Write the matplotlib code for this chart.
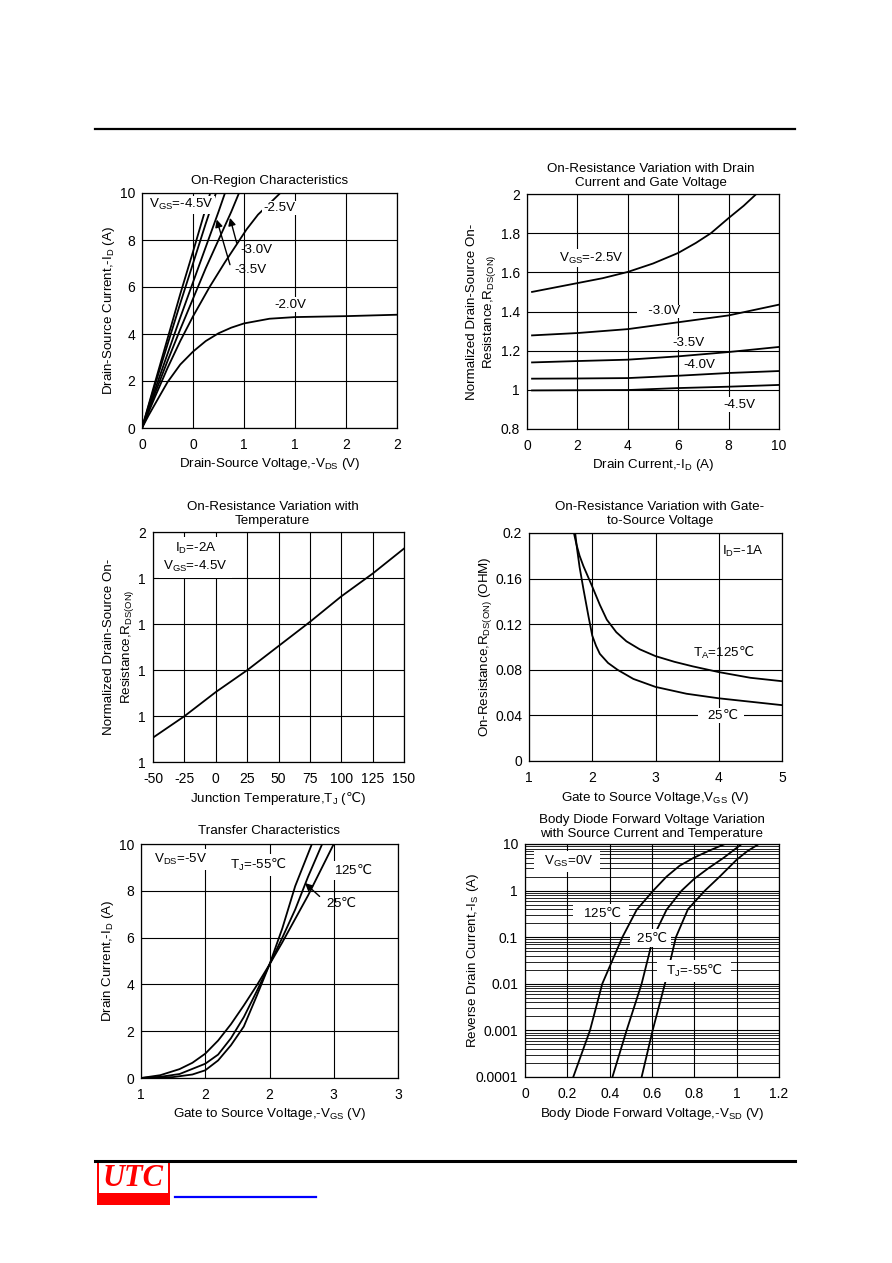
import matplotlib
matplotlib.use("Agg")
import matplotlib.pyplot as plt
from matplotlib.patches import Rectangle
from matplotlib.lines import Line2D

plt.rcParams['font.family'] = ['Liberation Sans', 'DejaVu Sans']
plt.rcParams['mathtext.fontset'] = 'custom'
plt.rcParams['mathtext.rm'] = 'Liberation Sans'
plt.rcParams['mathtext.it'] = 'Liberation Sans'
plt.rcParams['mathtext.sf'] = 'DejaVu Sans'
plt.rcParams['font.size'] = 9.6

W, H = 892, 1263
DEG = '$\\mathsf{\u2103}$'

# ---------------- data ----------------
# On-Region Characteristics (Vds, Id) per gate voltage
on_vds_45 = [0, 0.1, 0.2, 0.3, 0.4, 0.5, 0.535]
on_id_45 = [0, 1.9, 3.8, 5.7, 7.5, 9.35, 10]
on_vds_40 = [0, 0.1, 0.2, 0.3, 0.4, 0.5, 0.58]
on_id_40 = [0, 1.8, 3.55, 5.3, 7.0, 8.7, 10]
on_vds_35 = [0, 0.1, 0.2, 0.3, 0.4, 0.5, 0.6, 0.651]
on_id_35 = [0, 1.6, 3.15, 4.7, 6.2, 7.7, 9.2, 10]
on_vds_30 = [0, 0.1, 0.2, 0.3, 0.4, 0.5, 0.6, 0.7, 0.761]
on_id_30 = [0, 1.45, 2.85, 4.2, 5.5, 6.8, 8.0, 9.2, 10]
on_vds_25 = [0, 0.1, 0.2, 0.3, 0.4, 0.53, 0.65, 0.82, 0.91, 1.0, 1.085]
on_id_25 = [0, 1.3, 2.55, 3.7, 4.75, 6.0, 7.05, 8.45, 9.08, 9.55, 10]
on_vds_20 = [0, 0.05, 0.1, 0.2, 0.3, 0.4, 0.5, 0.6, 0.7, 0.8, 1.0, 1.2, 1.6, 2.0]
on_id_20 = [0, 0.52, 1.0, 1.95, 2.7, 3.25, 3.7, 4.03, 4.27, 4.45, 4.65, 4.72, 4.76, 4.82]
on_xticks = [0, 0.4, 0.8, 1.2, 1.6, 2.0]
on_xlabels = ['0', '0', '1', '1', '2', '2']

# On-Resistance vs drain current
rd_id = [0.2, 2, 4, 6, 8, 10]
rd_25_id = [0.2, 1, 2, 3, 4, 5, 6, 6.7, 7.3, 8, 8.6, 9.1]
rd_25_r = [1.50, 1.52, 1.545, 1.57, 1.602, 1.645, 1.699, 1.75, 1.80, 1.877, 1.94, 2.0]
rd_30 = [1.278, 1.29, 1.31, 1.345, 1.38, 1.435]
rd_35 = [1.14, 1.147, 1.154, 1.171, 1.193, 1.219]
rd_40 = [1.057, 1.058, 1.06, 1.072, 1.086, 1.096]
rd_45 = [0.997, 0.998, 0.999, 1.009, 1.016, 1.025]

# On-Resistance vs temperature
rt_temp = [-50, -25, 0, 25, 50, 75, 100, 125, 150]
rt_r = [0.706, 0.799, 0.904, 0.999, 1.104, 1.209, 1.320, 1.419, 1.528]
rt_yticks = [0.6, 0.8, 1.0, 1.2, 1.4, 1.6]
rt_ylabels = ['1', '1', '1', '1', '1', '2']

# On-Resistance vs gate voltage
rg_v_125 = [1.71, 1.75, 1.8, 1.86, 1.93, 2.0, 2.12, 2.23, 2.38, 2.54, 2.75, 3.0, 3.3, 3.59, 4.0, 4.5, 5.0]
rg_r_125 = [0.200, 0.190, 0.180, 0.171, 0.162, 0.153, 0.137, 0.124, 0.113, 0.105, 0.098, 0.092,
            0.087, 0.083, 0.078, 0.073, 0.070]
rg_v_25 = [1.73, 1.76, 1.8, 1.86, 1.94, 2.0, 2.06, 2.12, 2.25, 2.4, 2.65, 3.0, 3.49, 4.0, 4.5, 5.0]
rg_r_25 = [0.200, 0.186, 0.170, 0.151, 0.127, 0.110, 0.101, 0.094, 0.086, 0.080, 0.072, 0.065,
           0.059, 0.055, 0.052, 0.049]

# Transfer characteristics
tr_v_m55 = [1.0, 1.25, 1.4, 1.5, 1.6, 1.7, 1.8, 1.9, 2.0, 2.1, 2.2, 2.33]
tr_i_m55 = [0, 0.04, 0.15, 0.33, 0.75, 1.4, 2.2, 3.5, 4.85, 6.4, 8.2, 10]
tr_v_25 = [1.0, 1.15, 1.3, 1.5, 1.6, 1.7, 1.8, 1.9, 2.0, 2.1, 2.2, 2.3, 2.41]
tr_i_25 = [0, 0.05, 0.17, 0.61, 1.0, 1.7, 2.6, 3.7, 4.85, 6.0, 7.2, 8.6, 10]
tr_v_125 = [1.0, 1.15, 1.3, 1.4, 1.5, 1.6, 1.7, 1.8, 1.9, 2.0, 2.1, 2.2, 2.3, 2.4, 2.5]
tr_i_125 = [0, 0.12, 0.38, 0.65, 1.04, 1.6, 2.3, 3.1, 3.95, 4.85, 5.8, 6.8, 7.8, 8.9, 10]
tr_xticks = [1.0, 1.5, 2.0, 2.5, 3.0]
tr_xlabels = ['1', '2', '2', '3', '3']

# Body diode forward voltage
bd_v_125 = [0.228, 0.307, 0.365, 0.46, 0.528, 0.606, 0.669, 0.73, 0.795, 0.87, 0.945]
bd_i_125 = [1e-4, 1e-3, 1e-2, 0.1, 0.39, 1, 2, 3.4, 5, 7.2, 10]
bd_v_25 = [0.413, 0.48, 0.551, 0.606, 0.669, 0.74, 0.8, 0.87, 0.937, 1.024]
bd_i_25 = [1e-4, 1e-3, 1e-2, 0.1, 0.39, 1, 1.8, 3.1, 5, 10]
bd_v_m55 = [0.551, 0.603, 0.661, 0.713, 0.77, 0.85, 0.92, 1.0, 1.05, 1.105]
bd_i_m55 = [1e-4, 1e-3, 1e-2, 0.1, 0.4, 1, 2, 4.6, 7, 10]
bd_yticks = [1e-4, 1e-3, 1e-2, 0.1, 1, 10]
bd_ylabels = ['0.0001', '0.001', '0.01', '0.1', '1', '10']

fig = plt.figure(figsize=(W / 100, H / 100), dpi=100)


def add_ax(left, top, right, bottom):
    return fig.add_axes([left / W, 1 - bottom / H, (right - left) / W, (bottom - top) / H])


def style(ax, xticks, xlabels, yticks, ylabels, xlim, ylim):
    ax.set_xlim(xlim)
    ax.set_ylim(ylim)
    ax.set_xticks(xticks)
    ax.set_xticklabels(xlabels)
    ax.set_yticks(yticks)
    ax.set_yticklabels(ylabels)
    ax.tick_params(length=0, labelsize=10)
    ax.tick_params(axis='x', pad=7)
    ax.tick_params(axis='y', pad=5)
    ax.grid(True, color='black', lw=0.8)
    ax.set_axisbelow(True)
    for s in ax.spines.values():
        s.set_linewidth(0.9)


def labels(ax, xl, xpos, yl, ypos):
    ax.set_xlabel(xl)
    ax.xaxis.label.set_va('center')
    ax.xaxis.set_label_coords(0.5, xpos)
    ax.set_ylabel(yl, linespacing=1.3)
    ax.yaxis.label.set_va('center')
    ax.yaxis.set_label_coords(ypos, 0.5)


def title(ax, s, x=0.5, y=1.05):
    ax.text(x, y, s, transform=ax.transAxes, ha='center', va='center', linespacing=1.3)


def note(ax, x, y, s, box=False, padb=1.0):
    kw = {}
    if box:
        kw['bbox'] = dict(fc='white', ec='none', pad=padb)
    ax.text(x, y, s, ha='center', va='center', **kw)


LW = 1.3
arw = dict(arrowstyle='-|>', color='black', lw=1, mutation_scale=11, shrinkA=0, shrinkB=0)

# ---------------- 1: On-Region Characteristics ----------------
ax1 = add_ax(142, 193, 397, 428)
style(ax1, on_xticks, on_xlabels, range(0, 11, 2), [str(v) for v in range(0, 11, 2)], (0, 2), (0, 10))
for xs, ys in [(on_vds_45, on_id_45), (on_vds_40, on_id_40), (on_vds_35, on_id_35),
               (on_vds_30, on_id_30), (on_vds_25, on_id_25), (on_vds_20, on_id_20)]:
    ax1.plot(xs, ys, color='black', lw=LW)
title(ax1, 'On-Region Characteristics', y=1.051)
labels(ax1, 'Drain-Source Voltage,-V$_{\\rm DS}$ (V)', -0.155,
       'Drain-Source Current,-I$_{\\rm D}$ (A)', -0.13)
note(ax1, 0.305, 9.5, 'V$_{\\rm GS}$=-4.5V', box=True)
note(ax1, 1.08, 9.36, '-2.5V', box=True)
note(ax1, 0.90, 7.59, '-3.0V')
note(ax1, 0.853, 6.74, '-3.5V')
note(ax1, 1.167, 5.25, '-2.0V', box=True)
ax1.annotate('', xy=(0.586, 8.87), xytext=(0.69, 6.95), arrowprops=arw)
ax1.annotate('', xy=(0.69, 8.94), xytext=(0.743, 7.87), arrowprops=arw)

# ---------------- 2: On-Resistance vs drain current ----------------
ax2 = add_ax(527, 194, 779, 429)
style(ax2, range(0, 11, 2), [str(v) for v in range(0, 11, 2)],
      [0.8, 1.0, 1.2, 1.4, 1.6, 1.8, 2.0], ['0.8', '1', '1.2', '1.4', '1.6', '1.8', '2'], (0, 10), (0.8, 2))
ax2.plot(rd_25_id, rd_25_r, color='black', lw=LW)
for ys in (rd_30, rd_35, rd_40, rd_45):
    ax2.plot(rd_id, ys, color='black', lw=LW)
title(ax2, 'On-Resistance Variation with Drain\nCurrent and Gate Voltage', x=0.49, y=1.077)
labels(ax2, 'Drain Current,-I$_{\\rm D}$ (A)', -0.155,
       'Normalized Drain-Source On-\nResistance,R$_{\\rm DS(ON)}$', -0.178)
note(ax2, 2.56, 1.673, 'V$_{\\rm GS}$=-2.5V', box=True)
note(ax2, 5.46, 1.40, '   -3.0V   ', box=True, padb=0.5)
note(ax2, 6.42, 1.239, '-3.5V', box=True)
note(ax2, 6.84, 1.128, '-4.0V', box=True)
note(ax2, 8.44, 0.924, '-4.5V', box=True)

# ---------------- 3: On-Resistance vs temperature ----------------
ax3 = add_ax(153, 532, 404, 762)
style(ax3, range(-50, 151, 25), [str(v) for v in range(-50, 151, 25)],
      rt_yticks, rt_ylabels, (-50, 150), (0.6, 1.6))
ax3.plot(rt_temp, rt_r, color='black', lw=LW)
title(ax3, 'On-Resistance Variation with\nTemperature', x=0.476, y=1.078)
labels(ax3, 'Junction Temperature,T$_{\\rm J}$ (' + DEG + ')', -0.16,
       'Normalized Drain-Source On-\nResistance,R$_{\\rm DS(ON)}$', -0.133)
ax3.text(-16, 1.49, 'I$_{\\rm D}$=-2A\nV$_{\\rm GS}$=-4.5V', ha='center', va='center',
         linespacing=1.25, bbox=dict(fc='white', ec='none', pad=3))

# ---------------- 4: On-Resistance vs gate voltage ----------------
ax4 = add_ax(529, 533, 782, 761)
style(ax4, [1, 2, 3, 4, 5], ['1', '2', '3', '4', '5'],
      [0, 0.04, 0.08, 0.12, 0.16, 0.2], ['0', '0.04', '0.08', '0.12', '0.16', '0.2'], (1, 5), (0, 0.2))
ax4.plot(rg_v_125, rg_r_125, color='black', lw=LW)
ax4.plot(rg_v_25, rg_r_25, color='black', lw=LW)
title(ax4, 'On-Resistance Variation with Gate-\nto-Source Voltage', x=0.518, y=1.083)
labels(ax4, 'Gate to Source Voltage,V$_{\\rm GS}$ (V)', -0.162,
       'On-Resistance,R$_{\\rm DS(ON)}$ (OHM)', -0.172)
note(ax4, 4.38, 0.184, 'I$_{\\rm D}$=-1A')
note(ax4, 4.07, 0.0945, 'T$_{\\rm A}$=125' + DEG)
note(ax4, 4.04, 0.040, '  25' + DEG + '  ', box=True, padb=1)

# ---------------- 5: Transfer characteristics ----------------
ax5 = add_ax(141, 844, 398, 1078)
style(ax5, tr_xticks, tr_xlabels, range(0, 11, 2), [str(v) for v in range(0, 11, 2)], (1, 3), (0, 10))
for xs, ys in [(tr_v_m55, tr_i_m55), (tr_v_25, tr_i_25), (tr_v_125, tr_i_125)]:
    ax5.plot(xs, ys, color='black', lw=LW)
title(ax5, 'Transfer Characteristics', y=1.056)
labels(ax5, 'Gate to Source Voltage,-V$_{\\rm GS}$ (V)', -0.154,
       'Drain Current,-I$_{\\rm D}$ (A)', -0.128)
note(ax5, 1.305, 9.33, 'V$_{\\rm DS}$=-5V', box=True, padb=2)
note(ax5, 1.913, 9.11, 'T$_{\\rm J}$=-55' + DEG, box=True, padb=2)
note(ax5, 2.65, 8.86, '125' + DEG, box=True, padb=2)
note(ax5, 2.56, 7.47, '25' + DEG)
ax5.annotate('', xy=(2.276, 8.33), xytext=(2.39, 7.76), arrowprops=arw)

# ---------------- 6: Body diode ----------------
ax6 = add_ax(525, 844, 779, 1077)
ax6.set_yscale('log')
style(ax6, [0, 0.2, 0.4, 0.6, 0.8, 1.0, 1.2], ['0', '0.2', '0.4', '0.6', '0.8', '1', '1.2'],
      bd_yticks, bd_ylabels, (0, 1.2), (1e-4, 10))
ax6.yaxis.set_minor_locator(matplotlib.ticker.LogLocator(base=10, subs=range(2, 10)))
ax6.yaxis.set_minor_formatter(matplotlib.ticker.NullFormatter())
ax6.tick_params(which='minor', length=0)
ax6.grid(True, which='minor', axis='y', color='black', lw=0.6)
for xs, ys in [(bd_v_125, bd_i_125), (bd_v_25, bd_i_25), (bd_v_m55, bd_i_m55)]:
    ax6.plot(xs, ys, color='black', lw=LW)
title(ax6, 'Body Diode Forward Voltage Variation\nwith Source Current and Temperature', y=1.073)
labels(ax6, 'Body Diode Forward Voltage,-V$_{\\rm SD}$ (V)', -0.159,
       'Reverse Drain Current,-I$_{\\rm S}$ (A)', -0.205)
note(ax6, 0.2, 4.24, '  V$_{\\rm GS}$=0V  ', box=True, padb=2)
note(ax6, 0.358, 0.331, '  125' + DEG + '  ', box=True, padb=2)
note(ax6, 0.594, 0.096, ' 25' + DEG + ' ', box=True, padb=2)
note(ax6, 0.797, 0.0185, '  T$_{\\rm J}$=-55' + DEG + '  ', box=True, padb=2)


# ---------------- page decorations ----------------
def hline(x0, x1, y, color, lw):
    fig.add_artist(Line2D([x0 / W, x1 / W], [1 - y / H, 1 - y / H], color=color, lw=lw,
                          transform=fig.transFigure))


def rect(x0, y0, x1, y1, color):
    fig.add_artist(Rectangle((x0 / W, 1 - y1 / H), (x1 - x0) / W, (y1 - y0) / H,
                             facecolor=color, edgecolor='none', transform=fig.transFigure))


hline(95, 795, 128.5, 'black', 1.6)
rect(97, 1159.5, 170, 1205, '#ff0000')
rect(99, 1162, 168, 1193, 'white')
hline(95, 795, 1161, 'black', 2.2)
fig.text(133 / W, 1 - 1178 / H, 'UTC', color='#ff0000', fontsize=22, ha='center', va='center',
         family='Liberation Serif', style='italic', weight='bold')
hline(175, 316, 1197, '#0000ff', 1.6)

fig.savefig('out.png', dpi=100)
